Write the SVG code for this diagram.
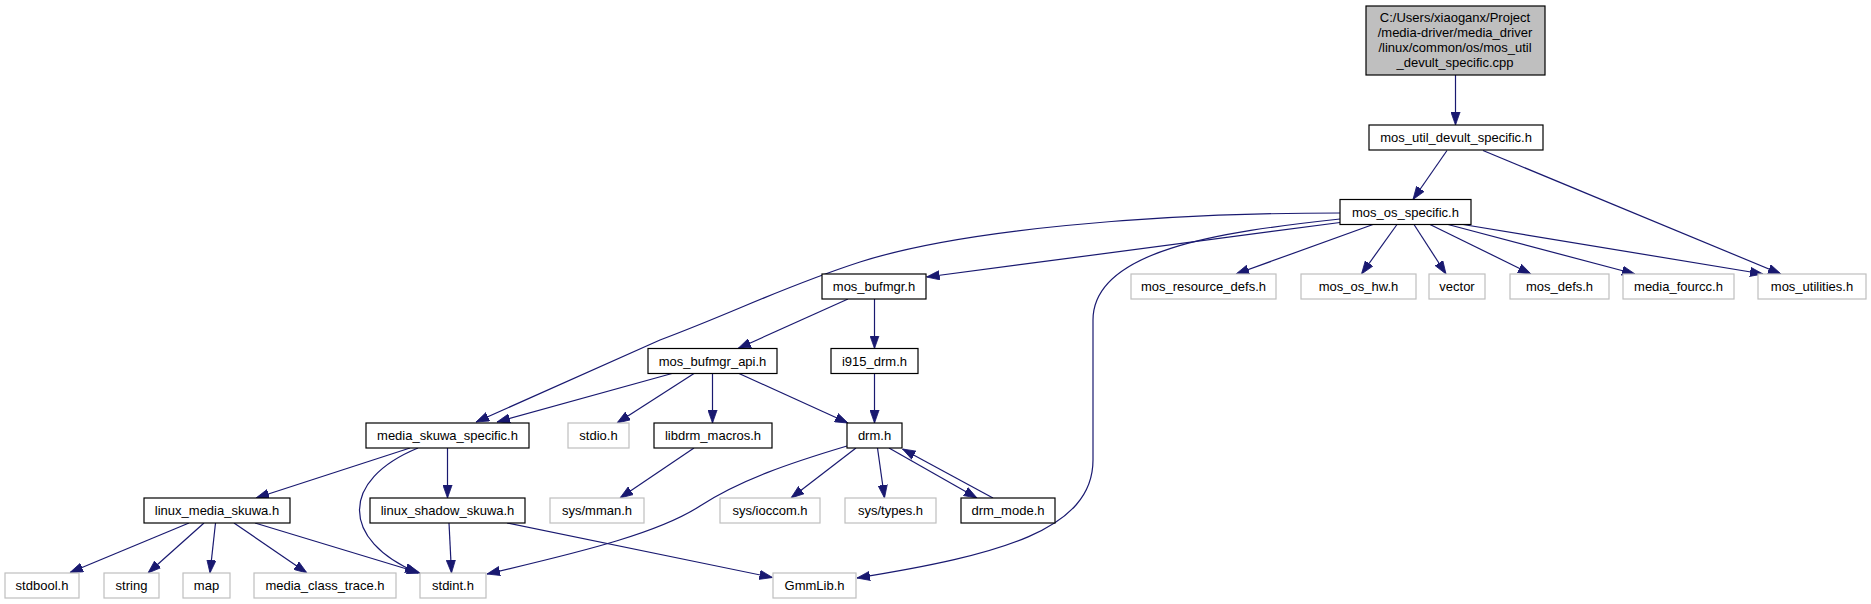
<svg xmlns="http://www.w3.org/2000/svg" width="1871" height="604" viewBox="0 0 1871 604">
<style>
.n rect{fill:#fff;stroke:#000;stroke-width:1.2}
.g rect{fill:#fff;stroke:#bfbfbf;stroke-width:1.2}
.r rect{fill:#bfbfbf;stroke:#000;stroke-width:1.2}
text{font-family:"Liberation Sans",Arial,sans-serif;font-size:13px;fill:#000;text-anchor:middle}
#edges path{fill:none;stroke:#191970;stroke-width:1.2;marker-end:url(#ah)}
</style>
<defs>
<marker id="ah" viewBox="0 0 13 10" refX="13" refY="5" markerWidth="13" markerHeight="10" markerUnits="userSpaceOnUse" orient="auto">
<path d="M0,0.4 L13,5 L0,9.6 z" fill="#191970" stroke="#191970" stroke-width="0.8"/>
</marker>
</defs>
<rect width="1871" height="604" fill="#fff"/>
<g id="edges">
<path d="M1455.5,75 L1455.5,125"/>
<path d="M1447,150.5 L1413,199.5"/>
<path d="M1483,150.5 L1781,274"/>
<path d="M1373,224.5 L1236,274"/>
<path d="M1397,224.5 L1361.5,274"/>
<path d="M1414,224.5 L1446,274"/>
<path d="M1430,224.5 L1531,274"/>
<path d="M1448,224.5 L1635,274"/>
<path d="M1463,224.5 L1763,274"/>
<path d="M1340,222.5 L926.5,277"/>
<path d="M1340,213 C1150,213 960,230 860,262 C780,288 740,310 660,340 L476,422"/>
<path d="M1340,219 C1220,232 1093,250 1093,320 L1093,460 C1093,530 1000,555 857,578"/>
<path d="M848,299 L738,348.5"/>
<path d="M874.5,299 L874.5,348.5"/>
<path d="M672,373.5 L497,422"/>
<path d="M694,373.5 L617,423"/>
<path d="M712.5,373.5 L712.5,423"/>
<path d="M739,373.5 L848,423"/>
<path d="M874.5,373.5 L874.5,423"/>
<path d="M410,448 L256,498"/>
<path d="M447.5,448 L447.5,498"/>
<path d="M418,448 C340,480 340,540 418,573"/>
<path d="M694,448 L620,498"/>
<path d="M847,446 C790,463 740,480 700,506 C660,532 590,550 487,574"/>
<path d="M856,448 L791,498"/>
<path d="M877.5,448 L884.5,498"/>
<path d="M889,448 L977,498"/>
<path d="M993,498 L902.5,449"/>
<path d="M449,523 L451.5,573"/>
<path d="M507,523 L772.5,577.5"/>
<path d="M189,523 L70,572.5"/>
<path d="M204,523 L148,573"/>
<path d="M215.5,523 L210,573"/>
<path d="M234,523 L307,573"/>
<path d="M255,523 L420,573"/>
</g>
<g id="root" class="r"><rect x="1366" y="6" width="179" height="69"/>
<text x="1455" y="21.5">C:/Users/xiaoganx/Project</text>
<text x="1455" y="36.5">/media-driver/media_driver</text>
<text x="1455" y="51.5">/linux/common/os/mos_util</text>
<text x="1455" y="66.5">_devult_specific.cpp</text></g>
<g id="mos_util_devult_specific" class="n"><rect x="1369" y="125" width="174" height="25"/><text x="1456" y="142">mos_util_devult_specific.h</text></g>
<g id="mos_os_specific" class="n"><rect x="1340" y="199.5" width="131" height="25"/><text x="1405.5" y="216.5">mos_os_specific.h</text></g>
<g id="mos_bufmgr" class="n"><rect x="822" y="274" width="104" height="25"/><text x="874" y="291">mos_bufmgr.h</text></g>
<g id="mos_resource_defs" class="g"><rect x="1131" y="274" width="145" height="25"/><text x="1203.5" y="291">mos_resource_defs.h</text></g>
<g id="mos_os_hw" class="g"><rect x="1301" y="274" width="115" height="25"/><text x="1358.5" y="291">mos_os_hw.h</text></g>
<g id="vector" class="g"><rect x="1429" y="274" width="56" height="25"/><text x="1457" y="291">vector</text></g>
<g id="mos_defs" class="g"><rect x="1510" y="274" width="99" height="25"/><text x="1559.5" y="291">mos_defs.h</text></g>
<g id="media_fourcc" class="g"><rect x="1623" y="274" width="111" height="25"/><text x="1678.5" y="291">media_fourcc.h</text></g>
<g id="mos_utilities" class="g"><rect x="1758" y="274" width="108" height="25"/><text x="1812" y="291">mos_utilities.h</text></g>
<g id="mos_bufmgr_api" class="n"><rect x="648" y="348.5" width="129" height="25"/><text x="712.5" y="365.5">mos_bufmgr_api.h</text></g>
<g id="i915_drm" class="n"><rect x="831" y="348.5" width="87" height="25"/><text x="874.5" y="365.5">i915_drm.h</text></g>
<g id="media_skuwa_specific" class="n"><rect x="366" y="423" width="163" height="25"/><text x="447.5" y="440">media_skuwa_specific.h</text></g>
<g id="stdio" class="g"><rect x="568" y="423" width="61" height="25"/><text x="598.5" y="440">stdio.h</text></g>
<g id="libdrm_macros" class="n"><rect x="654" y="423" width="118" height="25"/><text x="713" y="440">libdrm_macros.h</text></g>
<g id="drm" class="n"><rect x="847" y="423" width="55" height="25"/><text x="874.5" y="440">drm.h</text></g>
<g id="linux_media_skuwa" class="n"><rect x="144" y="498" width="146" height="25"/><text x="217" y="515">linux_media_skuwa.h</text></g>
<g id="linux_shadow_skuwa" class="n"><rect x="370" y="498" width="155" height="25"/><text x="447.5" y="515">linux_shadow_skuwa.h</text></g>
<g id="sys_mman" class="g"><rect x="550" y="498" width="94" height="25"/><text x="597" y="515">sys/mman.h</text></g>
<g id="sys_ioccom" class="g"><rect x="720" y="498" width="100" height="25"/><text x="770" y="515">sys/ioccom.h</text></g>
<g id="sys_types" class="g"><rect x="845" y="498" width="91" height="25"/><text x="890.5" y="515">sys/types.h</text></g>
<g id="drm_mode" class="n"><rect x="961" y="498" width="94" height="25"/><text x="1008" y="515">drm_mode.h</text></g>
<g id="stdbool" class="g"><rect x="5" y="573" width="74" height="25"/><text x="42" y="590">stdbool.h</text></g>
<g id="string" class="g"><rect x="104" y="573" width="55" height="25"/><text x="131.5" y="590">string</text></g>
<g id="map" class="g"><rect x="183" y="573" width="47" height="25"/><text x="206.5" y="590">map</text></g>
<g id="media_class_trace" class="g"><rect x="254" y="573" width="142" height="25"/><text x="325" y="590">media_class_trace.h</text></g>
<g id="stdint" class="g"><rect x="420" y="573" width="66" height="25"/><text x="453" y="590">stdint.h</text></g>
<g id="GmmLib" class="g"><rect x="773" y="573" width="83" height="25"/><text x="814.5" y="590">GmmLib.h</text></g>
</svg>
